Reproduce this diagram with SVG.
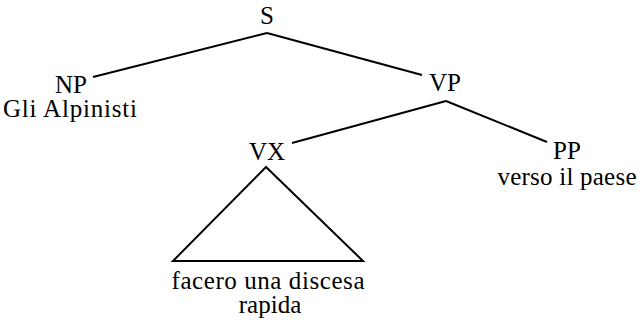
<svg xmlns="http://www.w3.org/2000/svg" width="639" height="325" viewBox="0 0 639 325">
<rect width="639" height="325" fill="#fff"/>
<g id="connectors" stroke="#000" stroke-width="2" fill="none">
<line x1="267" y1="33" x2="93" y2="77"/>
<line x1="267" y1="33" x2="422" y2="75"/>
<line x1="446" y1="101" x2="292" y2="143"/>
<line x1="446" y1="101" x2="547" y2="142"/>
</g>
<g font-family="'Liberation Serif', serif" font-size="25" text-anchor="middle" fill="#000">
<g id="S"><text x="267" y="24">S</text></g>
<g id="NP"><text x="71" y="93">NP</text><text x="70" y="117" textLength="134" lengthAdjust="spacing">Gli Alpinisti</text></g>
<g id="VP"><text x="445" y="91">VP</text></g>
<g id="VX"><text x="267" y="160">VX</text>
<polygon points="266,167 173,261 363,261" stroke="#000" stroke-width="2" fill="none"/>
<text x="268" y="289" textLength="193" lengthAdjust="spacing">facero una discesa</text><text x="270" y="313">rapida</text></g>
<g id="PP"><text x="567" y="159">PP</text><text x="567" y="185" textLength="139" lengthAdjust="spacing">verso il paese</text></g>
</g>
</svg>
